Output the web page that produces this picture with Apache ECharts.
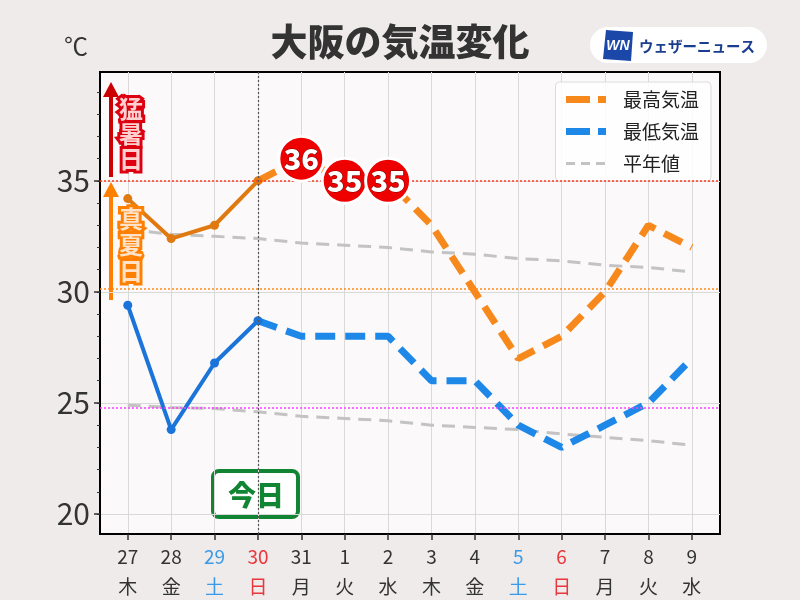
<!DOCTYPE html>
<html><head><meta charset="utf-8">
<script src="https://cdn.jsdelivr.net/npm/echarts@6/dist/echarts.min.js"></script>
<style>html,body{margin:0;padding:0;background:#eeebea}#c{width:800px;height:600px}</style>
</head><body><div id="c"></div>
<script>
// ---- data ----
const days = ['27','28','29','30','31','1','2','3','4','5','6','7','8','9'];
const weekdays = ['木','金','土','日','月','火','水','木','金','土','日','月','火','水'];
const maxTemps = [34.2, 32.4, 33.0, 35.0, 36, 35, 35, 33, 30, 27, 28, 30, 33, 32];
const minTemps = [29.4, 23.8, 26.8, 28.7, 28, 28, 28, 26, 26, 24, 23, 24, 25, 27];
const normalMax = [32.8, 32.6, 32.5, 32.4, 32.2, 32.1, 32.0, 31.8, 31.7, 31.5, 31.4, 31.2, 31.1, 30.9];
const normalMin = [24.9, 24.8, 24.75, 24.6, 24.4, 24.3, 24.2, 24.0, 23.9, 23.8, 23.6, 23.45, 23.3, 23.1];
const todayIndex = 3;
const yTickLabels = [20, 25, 30, 35];
const yMinorTicks = [20,21,22,23,24,25,26,27,28,29,30,31,32,33,34,35,36,37,38,39];
const refLines = [35, 30.15, 24.77];
const hotThreshold = 35;

// ---- build ----
const idx = days.map((d, i) => i);
const pairs = arr => arr.map((v, i) => [i, v]);
const obsMax = pairs(maxTemps).slice(0, todayIndex + 1);
const fcMax = pairs(maxTemps).slice(todayIndex);
const obsMin = pairs(minTemps).slice(0, todayIndex + 1);
const fcMin = pairs(minTemps).slice(todayIndex);
const hotDays = pairs(maxTemps).filter(p => p[0] > todayIndex && p[1] >= hotThreshold);

const FONT = "'Noto Sans CJK JP', 'Noto Sans', sans-serif";
const chart = echarts.init(document.getElementById('c'));

const gray = '#c3c3c3';
function outlinedText(x, y, text, lh, fill, stroke) {
  const base = { text: text, font: "bold 24px " + FONT, lineHeight: lh, align: 'center', verticalAlign: 'top' };
  return [
    { type: 'text', x: x, y: y, z: 5, style: Object.assign({}, base, { fill: stroke, stroke: stroke, lineWidth: 6, lineJoin: 'round' }) },
    { type: 'text', x: x, y: y, z: 6, style: Object.assign({}, base, { fill: fill }) }
  ];
}
const option = {
  backgroundColor: '#eeebea',
  textStyle: { fontFamily: FONT },
  animation: false,
  title: {
    text: '大阪の気温変化', left: 'center', top: 18,
    textStyle: { fontSize: 37, fontWeight: 900, color: '#333', fontFamily: FONT }
  },
  legend: {
    data: [
      { name: '最高気温', lineStyle: { width: 7, type: [24, 8] } },
      { name: '最低気温', lineStyle: { width: 7, type: [24, 8] } },
      { name: '平年値', lineStyle: { width: 3, type: [9, 6] } }
    ],
    orient: 'vertical', right: 89, top: 82,
    backgroundColor: 'rgba(255,255,255,0.85)', borderColor: '#dcdcdc', borderWidth: 1, borderRadius: 4,
    padding: [8, 12, 8, 7], itemWidth: 40, itemHeight: 14, itemGap: 13,
    itemStyle: { opacity: 0 },
    textStyle: { fontSize: 19, color: '#222', padding: [0, 0, 0, 12], fontFamily: FONT }
  },
  grid: {
    left: 100, right: 80, top: 72, bottom: 66, show: true,
    backgroundColor: '#fbf9fa', borderColor: '#000', borderWidth: 2
  },
  xAxis: {
    type: 'value', min: -0.64, max: 13.65,
    axisLine: { show: true, onZero: false, lineStyle: { color: '#000', width: 2 } },
    axisTick: { show: true, customValues: idx, length: 6, lineStyle: { color: '#333', width: 1.5 } },
    splitLine: { show: true, lineStyle: { color: '#d9d9d9', width: 1 } },
    axisLabel: {
      customValues: idx, margin: 8,
      formatter: v => {
        const i = Math.round(v);
        const w = weekdays[i];
        const c = w === '土' ? 's' : (w === '日' ? 'u' : 'n');
        return '{' + c + '|' + days[i] + '}\n{' + c + '|' + w + '}';
      },
      rich: {
        n: { color: '#333', fontSize: 19, lineHeight: 30, fontFamily: FONT },
        s: { color: '#3a9ae8', fontSize: 19, lineHeight: 30, fontFamily: FONT },
        u: { color: '#e8383d', fontSize: 19, lineHeight: 30, fontFamily: FONT }
      }
    }
  },
  yAxis: [{
    type: 'value', min: 19.1, max: 39.9,
    axisLine: { show: true, onZero: false, lineStyle: { color: '#000', width: 2 } },
    axisTick: { show: true, customValues: yTickLabels, length: 6, lineStyle: { color: '#333', width: 1.5 } },
    axisLabel: { customValues: yTickLabels, fontSize: 30, color: '#333', margin: 10, fontFamily: FONT },
    splitLine: { show: true, lineStyle: { color: '#d9d9d9', width: 1 } }
  }, {
    type: 'value', min: 19.1, max: 39.9, position: 'left',
    axisLine: { show: false, onZero: false },
    axisTick: { show: true, customValues: yMinorTicks, length: 3, lineStyle: { color: '#333', width: 1 } },
    axisLabel: { show: false },
    splitLine: { show: false }
  }],
  series: [
    { name: '平年値', type: 'line', data: pairs(normalMax), symbol: 'none', z: 2,
      lineStyle: { color: gray, width: 3, type: [13, 8] }, itemStyle: { color: gray } },
    { name: '平年値', type: 'line', data: pairs(normalMin), symbol: 'none', z: 2,
      lineStyle: { color: gray, width: 3, type: [13, 8] }, itemStyle: { color: gray } },
    { name: 'obsMax', type: 'line', data: obsMax, symbol: 'circle', symbolSize: 9, z: 4,
      lineStyle: { color: '#e07a10', width: 4 }, itemStyle: { color: '#e07a10' },
      markLine: {
        silent: true, symbol: 'none', label: { show: false },
        data: refLines.map((v, k) => ({ yAxis: v, lineStyle: { color: ['#ff3a1a', '#ff8a1a', '#ff3cff'][k], type: [2, 2], width: 1.5 } }))
          .concat([{ xAxis: todayIndex, lineStyle: { color: '#555', type: [2, 2], width: 1.2 } }])
      }
    },
    { name: '最高気温', type: 'line', data: fcMax, symbol: 'none', z: 3,
      lineStyle: { color: '#f7891c', width: 7, type: [20, 10] }, itemStyle: { color: '#f7891c' } },
    { name: 'obsMin', type: 'line', data: obsMin, symbol: 'circle', symbolSize: 9, z: 4,
      lineStyle: { color: '#1a74d9', width: 4 }, itemStyle: { color: '#1a74d9' } },
    { name: '最低気温', type: 'line', data: fcMin, symbol: 'none', z: 3,
      lineStyle: { color: '#1e88e8', width: 7, type: [20, 10] }, itemStyle: { color: '#1e88e8' } },
    { name: 'hot', type: 'scatter', data: hotDays, symbol: 'circle', symbolSize: 45, z: 10,
      itemStyle: { color: '#ee0000', borderColor: '#fff', borderWidth: 3, opacity: 1 },
      label: { show: true, position: 'inside', formatter: p => String(p.value[1]),
        fontSize: 29, fontWeight: 900, color: '#fff', fontFamily: FONT,
        textBorderColor: '#600', textBorderWidth: 0.8 } }
  ],
  graphic: [
    { type: 'text', left: 64, top: 34, style: { text: '℃', fill: '#333', font: "24px " + FONT } },
    // logo
    { type: 'group', left: 590, top: 27, children: [
      { type: 'rect', shape: { x: 0, y: 0, width: 177, height: 36, r: 18 }, style: { fill: '#fff' } },
      { type: 'polygon', shape: { points: [[16, 3], [43, 5], [41, 34], [13, 32]] }, style: { fill: '#1a47a8' } },
      { type: 'text', x: 28, y: 19, style: { text: 'WN', fill: '#fff', font: "italic bold 14px 'Liberation Sans'", align: 'center', verticalAlign: 'middle' } },
      { type: 'text', x: 49, y: 19, style: { text: 'ウェザーニュース', fill: '#1a3d8f', font: "bold 14.5px " + FONT, verticalAlign: 'middle' } }
    ] },
    // 猛暑日 arrow
    { type: 'line', shape: { x1: 111, y1: 177, x2: 111, y2: 95 }, style: { stroke: '#cc0000', lineWidth: 4 } },
    { type: 'polygon', shape: { points: [[103, 97], [119, 97], [111, 82]] }, style: { fill: '#cc0000' } }
  ].concat(outlinedText(131, 96, '猛\n暑\n日', 25, '#ffd0d0', '#dd0010'))
   .concat([
    // 真夏日 arrow
    { type: 'line', shape: { x1: 111, y1: 300, x2: 111, y2: 195 }, style: { stroke: '#ff8000', lineWidth: 4 } },
    { type: 'polygon', shape: { points: [[103, 197], [119, 197], [111, 182]] }, style: { fill: '#ff8000' } }
  ]).concat(outlinedText(131, 206, '真\n夏\n日', 26, '#ffe2c8', '#ff8000'))
   .concat([
    // 今日 box
    { type: 'group', left: 211, top: 469, z: 20, children: [
      { type: 'rect', shape: { x: 0, y: 0, width: 85, height: 46, r: 6 }, style: { fill: '#fff', stroke: '#118533', lineWidth: 4 } },
      { type: 'text', x: 43, y: 24, style: { text: '今日', font: "900 28px " + FONT, fill: '#118533', align: 'center', verticalAlign: 'middle' } }
    ] }
  ])
};
chart.setOption(option);
</script>
</body></html>
